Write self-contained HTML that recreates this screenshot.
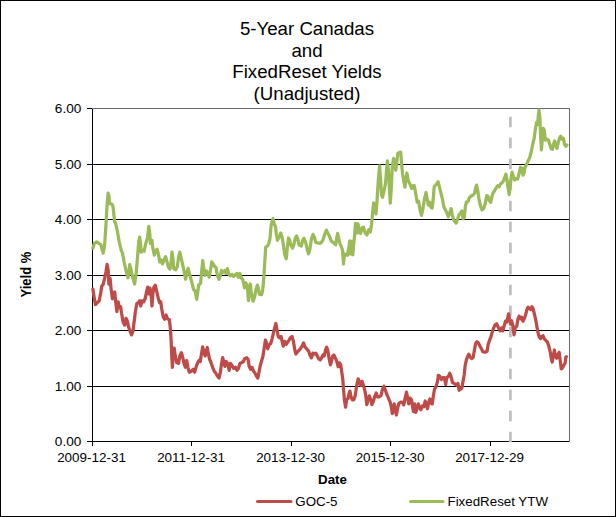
<!DOCTYPE html>
<html><head><meta charset="utf-8"><title>chart</title>
<style>
html,body{margin:0;padding:0;background:#fff;}
body{width:616px;height:517px;overflow:hidden;font-family:"Liberation Sans",sans-serif;}
svg{display:block;}
text{font-family:"Liberation Sans",sans-serif;fill:#000;}
</style></head><body>
<svg width="616" height="517" viewBox="0 0 616 517">
<rect x="0" y="0" width="616" height="517" fill="#fff"/>
<rect x="0.5" y="0.5" width="615" height="516" fill="none" stroke="#000" stroke-width="1"/>
<!-- title -->
<g font-size="18.67" text-anchor="middle">
<text x="307" y="35">5-Year Canadas</text>
<text x="307" y="56.5">and</text>
<text x="307" y="78">FixedReset Yields</text>
<text x="307" y="99.5">(Unadjusted)</text>
</g>
<!-- gridlines -->
<g stroke="#000" stroke-width="1" shape-rendering="crispEdges">
<line x1="87" x2="569" y1="164.5" y2="164.5"/>
<line x1="87" x2="569" y1="219.5" y2="219.5"/>
<line x1="87" x2="569" y1="275.5" y2="275.5"/>
<line x1="87" x2="569" y1="330.5" y2="330.5"/>
<line x1="87" x2="569" y1="386.5" y2="386.5"/>
<line x1="87" x2="569" y1="441.5" y2="441.5"/>
<line x1="87" x2="92" y1="108.5" y2="108.5"/>
<line x1="92.5" x2="92.5" y1="108" y2="446"/>
<line x1="191.5" x2="191.5" y1="441" y2="446"/>
<line x1="291.5" x2="291.5" y1="441" y2="446"/>
<line x1="390.5" x2="390.5" y1="441" y2="446"/>
<line x1="490.5" x2="490.5" y1="441" y2="446"/>
</g>
<g stroke="#68686e" stroke-width="1" shape-rendering="crispEdges" fill="none">
<line x1="92" x2="570" y1="108.5" y2="108.5"/>
<line x1="569.5" x2="569.5" y1="108" y2="442"/>
</g>
<!-- dashed marker -->
<line x1="510.4" x2="510.4" y1="442.2" y2="108" stroke="#bfbdc0" stroke-width="2.7" stroke-dasharray="10.5 10.5"/>
<!-- series -->
<polyline fill="none" stroke="#9bbb59" stroke-width="3.25" stroke-linejoin="round" stroke-linecap="round" points="92.9,248.3 94.3,243.4 96.8,241.9 98.8,243.4 100.7,244.4 102.1,249.3 103.2,253.2 104.6,245.4 106.0,224.0 107.1,204.5 108.1,193.2 109.1,196.7 109.5,203.5 111.8,204.1 113.0,206.4 113.8,214.2 114.7,222.0 115.5,223.0 117.3,230.8 119.2,241.5 121.2,250.3 122.5,253.2 124.1,262.0 126.0,270.7 128.0,277.8 129.0,270.7 129.7,264.6 130.9,269.2 132.7,277.5 134.6,284.0 136.2,273.0 137.7,255.0 138.7,241.5 139.7,237.2 140.7,245.4 141.2,252.2 142.6,250.3 144.2,251.2 145.5,244.4 147.5,237.6 148.8,226.3 149.8,233.7 150.4,243.4 152.0,240.5 152.7,247.3 154.3,255.1 155.7,250.3 157.2,249.3 158.6,255.1 159.7,262.0 161.1,260.0 162.5,263.9 164.0,260.0 165.6,256.7 167.0,262.0 168.3,266.8 169.9,269.2 171.0,262.9 172.0,252.2 173.0,259.0 173.8,268.8 175.7,269.7 177.3,266.8 178.6,257.1 179.8,252.2 181.2,258.1 182.5,263.9 183.9,270.0 185.6,279.3 186.8,273.4 188.1,268.3 189.4,273.4 190.6,278.0 192.2,284.0 193.6,289.5 195.2,291.0 196.7,299.3 197.8,291.5 198.7,285.2 200.6,283.2 201.5,273.0 202.7,260.6 203.8,267.8 204.9,275.4 206.5,271.0 207.9,273.4 209.2,277.3 210.6,269.5 211.8,261.8 213.1,263.7 214.7,266.6 216.0,267.6 217.4,275.4 219.0,279.3 220.3,275.4 221.5,270.5 223.2,272.5 224.8,270.5 226.0,273.4 227.3,268.6 228.7,273.4 230.3,275.8 232.0,274.4 233.6,276.4 235.1,275.0 236.9,273.4 238.4,277.3 240.0,273.4 241.4,278.3 242.7,279.3 243.6,283.0 244.5,287.8 245.9,282.9 247.3,286.0 248.5,300.6 249.6,291.0 250.3,284.0 251.2,292.0 253.1,301.2 254.6,297.0 256.0,289.2 257.4,285.1 258.6,289.2 259.3,294.1 261.5,294.6 262.5,291.2 263.3,284.3 264.0,274.6 264.8,262.0 265.7,247.1 267.3,246.2 268.6,244.2 270.0,238.4 271.2,224.7 273.1,218.5 274.1,223.8 275.5,226.7 276.4,234.5 277.4,240.3 279.4,236.4 280.7,232.9 281.9,236.4 283.3,244.2 284.6,254.0 286.2,258.8 287.3,248.1 288.5,238.0 289.7,240.3 291.0,245.2 292.6,248.1 294.0,244.2 295.3,238.4 296.7,235.9 298.0,240.0 299.2,245.1 301.3,246.1 302.7,240.3 304.0,238.3 305.6,242.2 307.1,249.0 308.5,253.9 309.9,249.0 311.4,239.3 313.0,234.4 314.4,237.3 315.7,242.2 318.2,243.2 320.8,243.2 322.7,240.3 324.7,234.4 326.4,230.1 328.0,233.4 329.5,236.4 331.3,241.2 333.8,242.8 335.8,244.7 336.8,237.3 337.7,233.4 338.7,238.3 340.1,244.2 341.6,247.1 342.5,250.1 343.5,264.0 344.5,254.0 346.0,254.5 347.4,255.4 348.9,247.1 349.8,240.8 350.5,254.0 351.5,241.3 352.8,254.9 353.7,244.2 354.7,234.5 355.5,223.3 356.7,233.0 358.0,223.8 359.4,232.8 360.5,233.5 362.0,227.7 363.5,227.2 364.9,232.5 366.9,235.0 368.8,229.6 370.3,232.0 371.5,224.7 372.2,218.0 372.8,210.5 373.7,203.0 374.7,210.5 376.0,214.0 377.0,200.8 378.2,181.8 379.6,165.8 380.6,179.8 381.6,195.4 382.5,197.3 383.9,191.5 385.5,183.7 386.4,172.0 387.4,160.9 388.4,170.1 389.4,187.6 390.3,203.2 391.3,187.6 392.3,166.2 393.6,158.4 394.6,164.2 395.8,170.1 396.8,162.3 397.7,153.5 399.1,152.5 400.7,152.1 401.6,164.2 402.6,174.0 404.0,182.7 404.9,187.2 405.9,179.8 406.9,173.0 408.2,180.8 409.8,183.7 411.8,188.6 413.1,185.7 414.3,185.7 415.7,193.4 417.2,202.2 418.6,201.2 419.9,209.0 421.5,215.3 422.9,209.0 424.4,199.3 426.0,192.5 427.3,199.3 428.3,205.1 429.7,202.2 430.8,207.1 432.2,208.1 433.2,199.3 434.2,186.6 436.1,184.7 438.1,181.8 439.6,187.6 441.0,193.4 442.5,199.3 443.9,207.1 445.5,210.0 446.8,212.9 448.4,216.8 449.7,212.9 451.1,208.6 452.3,214.9 453.6,219.7 455.0,221.7 456.2,223.1 457.5,219.7 458.9,214.9 460.5,212.9 461.8,211.0 463.0,218.8 464.4,216.8 465.3,207.1 466.3,202.2 467.9,201.8 469.2,197.9 471.2,196.0 473.1,195.0 474.5,193.5 475.6,188.0 476.6,185.1 477.8,191.0 479.1,199.9 480.4,205.6 481.9,210.0 483.4,209.0 485.2,204.0 486.8,195.6 488.0,196.6 489.4,200.5 490.7,202.4 491.9,196.6 493.2,192.7 494.6,190.7 496.2,187.8 497.7,185.8 499.1,186.8 500.5,183.9 502.0,182.9 503.4,181.0 504.5,178.1 505.9,174.2 506.9,179.0 507.9,186.8 509.2,194.6 510.2,186.8 511.2,177.1 512.1,172.2 513.3,176.1 514.7,180.0 516.2,178.6 517.6,179.0 519.2,173.2 520.5,167.3 521.9,168.3 522.9,175.1 524.0,173.2 525.0,167.3 527.0,163.4 528.3,160.5 529.7,157.6 531.2,151.8 532.6,144.9 534.2,138.1 535.5,128.4 536.5,122.5 537.5,124.5 538.4,114.7 539.0,110.2 539.8,116.7 540.6,136.2 541.4,149.8 542.3,140.1 543.3,128.4 544.3,130.3 545.3,140.1 546.8,139.1 548.4,140.1 549.7,144.0 551.1,148.8 552.3,149.4 553.6,144.0 554.6,141.0 555.8,145.9 557.0,148.3 558.1,143.0 559.5,138.1 560.7,136.2 561.8,139.1 563.4,138.1 564.4,144.0 565.9,146.3 566.9,145.0"/>
<polyline fill="none" stroke="#be4b48" stroke-width="3.25" stroke-linejoin="round" stroke-linecap="round" points="92.9,289.1 93.9,295.9 95.5,304.7 97.4,302.7 99.2,300.8 100.7,293.0 101.7,286.2 103.2,284.2 104.6,278.4 106.0,271.6 107.1,264.4 108.1,269.6 108.9,284.2 110.1,278.4 111.0,288.1 112.4,298.8 113.4,293.0 114.7,292.0 115.7,301.8 116.9,311.5 118.2,301.8 119.2,307.6 120.6,306.6 121.6,313.4 123.1,322.2 124.7,325.1 126.0,318.3 127.4,321.2 128.6,327.1 129.9,331.0 131.5,334.9 132.9,331.0 134.2,321.2 135.4,311.5 136.8,303.7 138.3,302.7 139.7,300.8 140.7,306.0 142.0,300.8 143.6,301.8 145.1,298.8 146.5,292.0 147.7,287.1 149.0,294.0 150.0,288.1 151.0,294.0 152.0,306.0 152.9,294.0 153.9,287.1 155.3,285.2 156.6,291.0 158.2,297.9 159.6,302.7 160.7,301.8 161.7,308.6 163.1,316.4 164.6,319.3 166.1,315.0 167.5,318.8 169.4,319.8 170.4,328.7 171.2,342.0 171.8,357.0 172.4,367.3 173.1,355.7 174.2,348.2 175.2,355.7 176.6,362.5 178.5,363.4 179.9,355.7 181.4,352.7 182.8,357.6 184.0,363.4 185.3,367.3 186.7,360.5 187.9,367.3 189.2,372.2 191.2,371.2 193.1,369.3 194.7,372.2 196.0,367.3 197.4,363.4 199.0,360.5 200.3,361.5 201.5,353.7 202.7,346.9 203.8,351.8 205.2,356.0 206.4,350.8 207.3,347.5 208.3,353.7 209.7,359.5 211.0,362.5 212.6,367.3 214.2,371.2 215.9,373.2 217.5,376.1 219.0,378.1 220.4,372.2 221.6,363.4 222.7,357.6 223.9,362.5 224.9,366.4 226.2,361.5 227.6,363.4 229.2,370.3 230.5,363.4 232.1,365.4 233.6,368.3 235.4,367.3 237.0,370.3 238.5,368.3 239.9,363.4 241.8,362.5 243.4,361.5 244.7,358.6 246.7,357.6 248.1,359.5 249.2,366.4 250.6,369.3 252.0,367.3 253.5,371.2 255.1,373.2 256.4,376.1 257.8,378.1 259.0,372.2 260.3,365.4 261.7,360.5 262.9,356.6 264.2,347.9 265.4,340.1 266.6,343.0 267.7,348.8 269.1,344.9 270.7,343.5 272.0,339.1 273.2,334.0 274.5,328.5 275.9,323.5 277.1,330.5 278.3,336.8 279.8,337.8 281.1,336.5 282.3,342.4 283.2,346.2 284.6,341.4 286.2,344.3 287.5,342.4 288.9,340.4 290.5,337.5 292.0,336.5 293.4,341.4 294.7,349.2 295.9,354.0 297.3,352.1 299.2,350.1 300.8,348.2 302.1,346.2 303.5,342.9 305.1,347.2 307.0,349.2 308.6,351.1 309.9,355.0 311.5,357.9 312.9,353.1 314.4,354.0 315.8,353.1 317.3,356.0 318.7,358.9 320.3,359.9 321.6,357.9 323.0,355.0 324.2,356.0 325.5,350.1 326.7,347.2 327.9,351.1 329.0,357.9 330.4,364.8 331.6,360.9 332.7,356.0 333.9,355.0 335.3,357.9 336.6,360.9 338.2,366.7 339.5,362.8 340.7,364.8 341.7,371.6 342.9,380.3 343.6,390.1 344.4,399.8 345.6,407.2 346.6,399.8 347.9,398.8 348.9,394.0 349.9,391.1 350.8,395.9 352.2,399.8 353.8,399.8 355.1,395.9 356.3,388.1 357.3,382.3 358.2,378.8 359.6,383.3 361.0,385.2 362.1,381.3 363.1,384.2 364.5,389.1 365.8,395.9 366.8,404.7 368.0,399.8 369.4,395.9 370.7,399.8 371.9,404.7 373.2,401.8 374.6,396.9 376.2,393.0 377.5,396.9 379.1,396.9 381.0,395.5 382.5,389.2 384.0,386.3 385.3,390.2 386.8,394.1 388.4,398.0 390.1,402.0 391.3,406.8 392.3,413.6 393.2,410.7 394.2,403.9 395.2,408.8 396.4,415.0 397.5,408.8 398.7,403.9 400.5,402.0 402.0,402.0 403.8,404.9 405.3,397.1 406.5,392.2 407.7,398.1 408.8,403.9 410.2,398.1 411.6,400.0 412.5,406.8 413.5,411.7 414.7,403.9 415.8,412.3 417.0,408.8 418.4,403.9 419.5,407.8 420.9,409.7 422.3,405.8 423.8,406.8 425.2,401.0 426.4,404.9 427.5,408.8 428.7,402.0 429.9,399.0 431.0,402.9 432.2,403.9 433.2,397.1 434.5,389.3 436.1,386.4 437.5,381.5 438.4,375.3 440.0,376.6 441.4,379.5 442.7,377.6 444.3,377.6 445.7,384.4 446.8,377.6 448.2,376.6 449.7,373.3 451.1,376.6 452.5,382.5 454.0,383.4 455.6,384.4 457.0,385.4 457.9,383.4 459.1,390.3 460.5,389.3 461.8,388.3 463.0,381.5 464.2,374.7 465.1,365.9 466.3,360.1 467.7,356.2 468.8,354.2 470.2,357.1 471.8,358.6 473.2,357.2 474.4,350.3 475.6,343.6 477.0,341.8 478.6,343.3 479.9,346.0 481.5,348.9 482.7,351.7 484.9,352.3 487.1,351.3 488.2,344.0 489.6,340.2 491.0,336.7 492.3,331.8 493.7,328.0 495.0,324.8 496.6,323.8 498.6,328.0 500.2,330.9 501.6,328.0 502.7,330.9 504.1,326.0 505.5,321.2 506.6,322.1 507.6,318.2 508.6,313.8 509.5,319.2 510.5,324.1 511.7,320.8 512.9,326.0 514.0,334.8 515.2,328.0 516.8,326.0 517.9,319.2 519.1,316.3 520.3,318.8 521.6,317.3 523.0,321.2 524.2,318.8 525.5,315.3 526.9,309.5 528.1,307.1 529.4,308.5 530.6,309.5 532.0,306.6 533.3,309.5 534.7,315.3 535.8,320.2 536.8,326.0 537.8,331.9 539.2,336.8 540.5,338.7 541.7,336.4 543.1,335.8 544.4,339.1 546.0,340.7 547.5,342.2 548.9,346.5 550.3,352.3 551.4,359.2 552.2,362.1 553.2,356.2 554.4,350.0 555.3,356.2 556.7,358.2 558.1,354.3 559.2,352.3 560.2,360.1 561.2,368.9 562.5,367.9 563.9,365.0 565.1,363.1 565.8,357.2 566.4,356.6"/>
<!-- y labels -->
<g font-size="13.6" text-anchor="end">
<text x="81.3" y="113">6.00</text>
<text x="81.3" y="168.7">5.00</text>
<text x="81.3" y="224">4.00</text>
<text x="81.3" y="279.7">3.00</text>
<text x="81.3" y="335">2.00</text>
<text x="81.3" y="390.7">1.00</text>
<text x="81.3" y="446">0.00</text>
</g>
<g font-size="13.45" text-anchor="middle">
<text x="91.5" y="462">2009-12-31</text>
<text x="191" y="462">2011-12-31</text>
<text x="290.5" y="462">2013-12-30</text>
<text x="390" y="462">2015-12-30</text>
<text x="489.5" y="462">2017-12-29</text>
</g>
<text x="332.5" y="484.3" font-size="13.33" font-weight="bold" text-anchor="middle">Date</text>
<text transform="translate(31.4,297.4) rotate(-90)" font-size="14.2" font-weight="bold" textLength="45.6" lengthAdjust="spacingAndGlyphs">Yield %</text>
<!-- legend -->
<line x1="257.5" x2="291" y1="501.5" y2="501.5" stroke="#be4b48" stroke-width="3" stroke-linecap="round"/>
<text x="295.3" y="505.7" font-size="13.33">GOC-5</text>
<line x1="410.5" x2="443" y1="501.5" y2="501.5" stroke="#9bbb59" stroke-width="3" stroke-linecap="round"/>
<text x="447.5" y="505.7" font-size="13.33">FixedReset YTW</text>
</svg>
</body></html>
